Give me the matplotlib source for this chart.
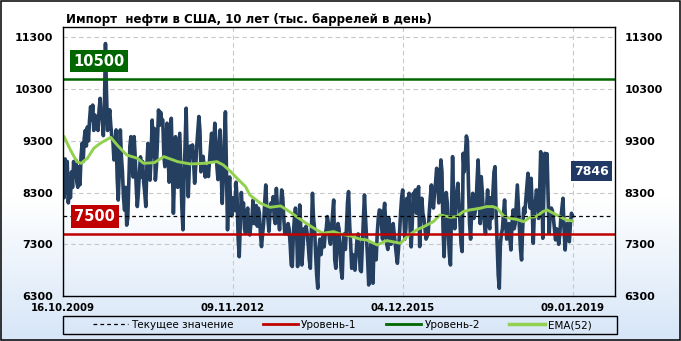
import numpy as np
import matplotlib
matplotlib.use('Agg')
import matplotlib.pyplot as plt
from matplotlib.lines import Line2D
from matplotlib.patches import Rectangle

# weekly imports, thousand barrels per day
imports = [
    8900, 8200, 8950, 8300, 8900, 8100, 8500, 8200, 8700, 8400,
    8900, 8600, 8930, 8500, 8400, 8800, 8450, 9000, 9250, 8900,
    9350, 9500, 9200, 9570, 9300, 9700, 9960, 9700, 9990, 9500,
    9800, 9600, 9770, 9500, 9900, 10120, 9800, 9700, 9400, 9900,
    11180, 10200, 9500, 9700, 9900, 9600, 9380, 9300, 8930, 9200,
    9510, 8600, 8155, 8700, 9510, 9000, 8700, 8200, 7960, 8400,
    7670, 7800, 8500, 9200, 9380, 8800, 8600, 9380, 9000, 8400,
    8030, 8300, 8700, 8990, 8600, 8900, 8500, 8300, 8030, 8800,
    9250, 8800, 8540, 9000, 9700, 9000, 9540, 8540, 8800, 9300,
    9895, 9600, 9850, 9700, 9700, 9000, 8800, 9300, 9640, 9000,
    8500, 9000, 9735, 8900, 7900, 8600, 9380, 8800, 8400, 8900,
    9445, 8700, 8000, 7580, 8500, 9200, 9930, 9000, 8220, 8800,
    9200, 9000, 9220, 8900, 8480, 8800, 9200, 9500, 9770, 9500,
    8700, 8900, 9000, 8800, 8600, 8800, 8800, 8610, 8900, 9200,
    9445, 8900, 9200, 9640, 9300, 8800, 8550, 9100, 9510, 8700,
    8090, 8600, 9300, 9860, 8700, 7580, 8300, 8600, 8000, 7850,
    8200, 8000, 7950, 8500, 8200, 7400, 7060, 7700, 8300, 7900,
    8100, 7600, 7510, 7900, 8000, 7600, 7480, 7700, 7800, 8155,
    7700, 8000, 8050, 7650, 8000, 7900, 7500, 7255, 7500, 7700,
    8100, 8446, 8000, 7800, 7550, 7900, 8100, 8000, 8220, 7800,
    7700, 8380, 8000, 7800, 7580, 8000, 8350, 8200, 7800, 7500,
    7600, 7500, 7700, 7600, 7300, 6900, 6870, 7500, 7800, 8000,
    7600, 6870, 7200, 8060, 7600, 6900, 7200, 7600, 7500, 7650,
    7500, 7300, 7000, 6836, 7600, 8285, 7800, 7600, 7100, 6700,
    6450, 7200, 7400, 7100, 7300, 7450, 7250, 7500, 7600, 7835,
    7700, 7400, 7300, 7600, 7900, 8155, 7000, 6836, 7200, 7700,
    7600, 7200, 6800, 6643, 7300, 7500, 7200, 7600, 8100, 8318,
    7700, 7300, 6836, 7100, 7000, 6800, 7100, 7400, 7500, 7200,
    6800, 6770, 7300, 7800, 8253, 7800, 7400, 7000, 6514, 6800,
    7300, 6900, 6547, 7300, 7200, 7000, 7500, 7800, 7963, 7950,
    7700, 7400, 7900, 8092, 7700, 7300, 7200, 7800, 7500, 7300,
    7600, 7700, 7500, 7300, 7100, 6933, 7200, 7500, 7900, 8200,
    8350, 7900, 7400, 7600, 8189, 8000, 8285, 7600, 7250, 7700,
    8285, 8000, 8350, 7900, 8300, 8414, 7255, 7800, 8189, 7900,
    7800, 7600, 7400, 7450, 7500, 7900, 8200, 8446, 8100, 8000,
    8300, 8500, 8768, 8500, 8100, 8500, 8930, 8700, 7600, 7060,
    7700, 8300, 8100, 7500, 7100, 6900, 8000, 8994, 8200, 7600,
    8100, 8300, 8479, 8100, 7700, 7300, 7159, 9058, 8700, 9000,
    9393, 9300, 8400, 7700, 7400, 8000, 8285, 7800, 7900, 8000,
    8500, 8930, 8400, 7700, 8607, 8300, 7900, 7700, 7500, 8000,
    8350, 7700, 7600, 8200, 7800, 8300, 8700, 8800, 7900, 7300,
    6700, 6450, 7300, 7500, 7600, 7900, 8155, 7700, 7400, 7600,
    7700, 7400, 7190, 7700, 7963, 7600, 7700, 8092, 8446, 8000,
    7600, 7200, 6997, 7600, 8000, 7900, 8155, 8400, 8672, 8200,
    8000, 8575, 8000, 7320, 7900, 8100, 8350, 8200, 7800, 8300,
    9090, 8600, 7416, 8300, 9058, 8900, 9050, 8200, 7512, 7900,
    8000, 7950, 7800, 7600, 7385, 7600, 7500, 7300, 7500, 7800,
    8000, 8189, 7600, 7190, 7500, 7700, 7400, 7350, 7700, 7900,
    7846,
]

# EMA(52) read at selected weeks
ema_weeks = [0, 1, 7, 13, 17, 23, 29, 35, 45, 51, 60, 70, 76, 86, 95, 108,
             120, 133, 145, 151, 158, 164, 172, 176, 186, 195, 205, 211, 220,
             230, 239, 245, 255, 261, 271, 280, 286, 296, 305, 318, 324, 333,
             340, 349, 355, 365, 371, 377, 383, 393, 399, 405, 409, 415, 421,
             427, 434, 440, 446, 452, 456, 462, 468, 474, 480]
ema_vals = [9400, 9380, 9123, 8897, 8865, 8962, 9155, 9251, 9367, 9219, 9026,
            8962, 8865, 8878, 8994, 8897, 8852, 8865, 8897, 8833, 8704, 8575,
            8414, 8253, 8092, 8015, 8041, 7963, 7835, 7693, 7577, 7513, 7545,
            7500, 7461, 7397, 7384, 7287, 7371, 7319, 7448, 7577, 7641, 7738,
            7867, 7822, 7835, 7931, 7963, 7996, 8028, 8028, 7996, 7847, 7802,
            7783, 7738, 7822, 7835, 7931, 7963, 7899, 7835, 7770, 7750]

level1 = 7500
level2 = 10500
current = 7846

tick_weeks = [0, 160, 320, 480]
tick_labels = ['16.10.2009', '09.11.2012', '04.12.2015', '09.01.2019']
y_ticks = [6300, 7300, 8300, 9300, 10300, 11300]

navy = '#243f60'
red = '#c00000'
green = '#006600'
lime = '#92d050'

fig = plt.figure(figsize=(6.81, 3.41), dpi=100)

# background gradient, white to light blue
bg = fig.add_axes([0, 0, 1, 1], zorder=-10)
grad = np.ones((200, 1, 3))
t = np.clip((np.linspace(0, 1, 200) - 0.58) / 0.42, 0, 1)
for k, c in enumerate([0.84, 0.90, 0.97]):
    grad[:, 0, k] = 1 - t * (1 - c)
bg.imshow(grad, aspect='auto', extent=[0, 1, 0, 1])
bg.axis('off')

ax = fig.add_axes([63 / 681, 1 - 296 / 341, 552 / 681, 269 / 341])
ax.patch.set_alpha(0)

weeks = np.arange(len(imports))
ax.plot(weeks, imports, color=navy, lw=2.6, solid_joinstyle='round', zorder=3)
ax.plot(ema_weeks, ema_vals, color=lime, lw=2.1, zorder=4)
ax.axhline(level2, color=green, lw=1.8, zorder=5)
ax.axhline(level1, color=red, lw=1.8, zorder=5)
ax.plot([0, 515], [current, current], color='black', lw=0.9,
        dashes=(3, 2.5), zorder=4)

ax.set_xlim(0, 520)
ax.set_ylim(6300, 11500)
ax.set_yticks(y_ticks)
ax.set_xticks(tick_weeks)
ax.set_xticklabels(tick_labels)
ax.grid(True, color='#c8c8c8', lw=0.8, ls=(0, (4, 3)), zorder=1)
ax.tick_params(axis='y', length=0, pad=7, labelsize=8,
               labelright=True, right=False)
ax.tick_params(axis='x', length=0, pad=5, labelsize=7.3)
for lab in ax.get_yticklabels() + ax.get_xticklabels():
    lab.set_fontweight('bold')
for s in ax.spines.values():
    s.set_color('black')
    s.set_linewidth(1)
    s.set_zorder(6)

box = dict(boxstyle='square,pad=0.25', ec='none')
ax.text(34, 10840, '10500', color='white', fontsize=10.5, fontweight='bold',
        ha='center', va='center', bbox=dict(box, fc=green), zorder=7)
ax.text(30, 7835, '7500', color='white', fontsize=10.5, fontweight='bold',
        ha='center', va='center', bbox=dict(box, fc=red), zorder=7)
ax.text(498, 8715, '7846', color='white', fontsize=9, fontweight='bold',
        ha='center', va='center', bbox=dict(box, fc='#1f3864'), zorder=7)

fig.text(66 / 681, 1 - 23 / 341,
         'Импорт  нефти в США, 10 лет (тыс. баррелей в день)',
         fontsize=8.5, fontweight='bold', va='baseline')

handles = [Line2D([], [], color='black', lw=0.9, dashes=(3, 2.5)),
           Line2D([], [], color=red, lw=2),
           Line2D([], [], color=green, lw=2),
           Line2D([], [], color=lime, lw=2.5)]
names = ['Текущее значение', 'Уровень-1', 'Уровень-2', 'EMA(52)']
fig.legend(handles, names, loc='center', bbox_to_anchor=(342 / 681, 1 - 325 / 341),
           ncol=4, frameon=False, fontsize=7.5, handlelength=3.4,
           handletextpad=0.3, columnspacing=2.8)
fig.patches.append(Rectangle((63 / 681, 1 - 334 / 341), 554 / 681, 18 / 341,
                             transform=fig.transFigure, fill=False,
                             ec='black', lw=1))
fig.patches.append(Rectangle((0.001, 0.002), 0.997, 0.996,
                             transform=fig.transFigure, fill=False,
                             ec='black', lw=1.1))

fig.savefig('out.png', dpi=100)
